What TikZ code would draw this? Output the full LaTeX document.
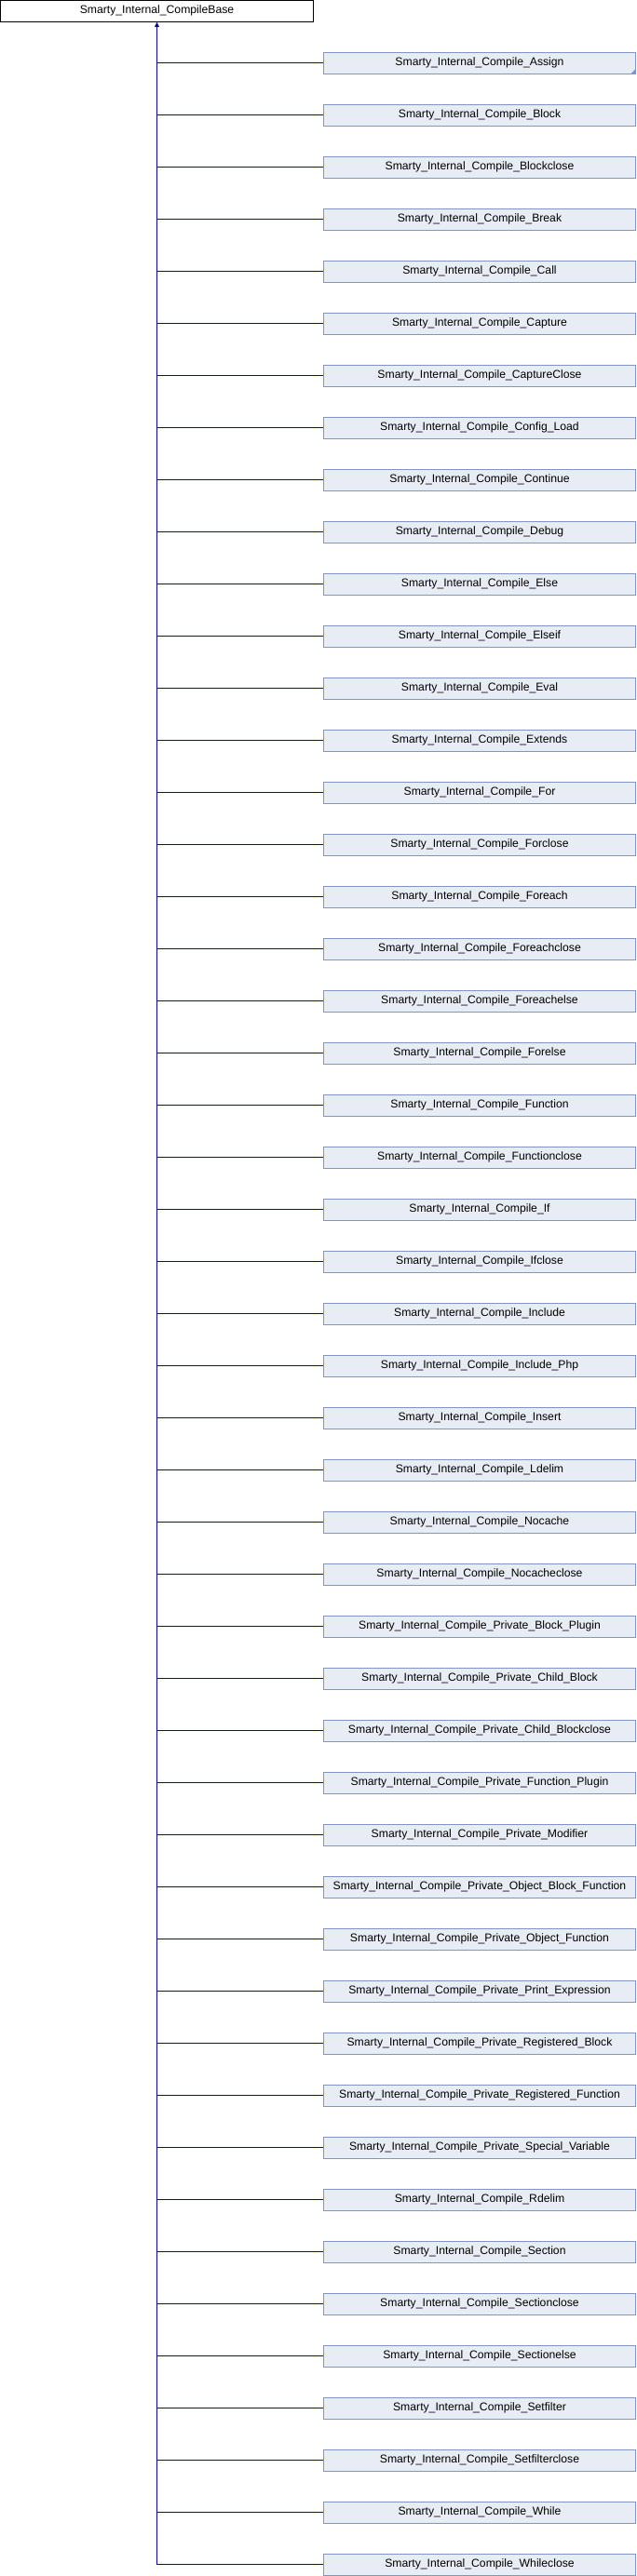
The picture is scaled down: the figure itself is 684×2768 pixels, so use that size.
\documentclass[tikz,border=0pt]{standalone}
\usepackage{fontspec}
\setmainfont{Liberation Sans}
\usetikzlibrary{arrows.meta}
\definecolor{edgeblue}{HTML}{0A0A96}
\definecolor{boxfill}{HTML}{E8ECF5}
\definecolor{boxline}{HTML}{7E95C9}
\begin{document}
\begin{tikzpicture}[x=1pt,y=-1pt,
  base/.style={draw=black,fill=white,line width=0.9pt,minimum width=336pt,minimum height=23pt,inner sep=0pt,font=\fontsize{12.2}{14}\selectfont},
  child/.style={draw=boxline,fill=boxfill,line width=0.9pt,minimum width=335pt,minimum height=23pt,inner sep=0pt,font=\fontsize{12.2}{14}\selectfont},
  inh/.style={draw=edgeblue,line width=1.1pt}]
\useasboundingbox (0,0) rectangle (684,2768);
\node[base] (base) at (168.5,11.8) {Smarty\_Internal\_CompileBase};
\coordinate (trunk) at (168.5,2755.5);
\foreach [count=\i from 0] \n in {Assign,Block,Blockclose,Break,Call,Capture,CaptureClose,Config\_Load,Continue,Debug,Else,Elseif,Eval,Extends,For,Forclose,Foreach,Foreachclose,Foreachelse,Forelse,Function,Functionclose,If,Ifclose,Include,Include\_Php,Insert,Ldelim,Nocache,Nocacheclose,Private\_Block\_Plugin,Private\_Child\_Block,Private\_Child\_Blockclose,Private\_Function\_Plugin,Private\_Modifier,Private\_Object\_Block\_Function,Private\_Object\_Function,Private\_Print\_Expression,Private\_Registered\_Block,Private\_Registered\_Function,Private\_Special\_Variable,Rdelim,Section,Sectionclose,Sectionelse,Setfilter,Setfilterclose,While,Whileclose}{
  \node[child] (c\i) at (515,{67.8+56*\i}) {Smarty\_Internal\_Compile\_\n};
  \draw[inh] (c\i.west) -- (168.5,{67.8+56*\i});
}
\draw[inh,-{Triangle[length=5pt,width=4.5pt]}] (trunk) -- (base.south);
\fill[boxline] (c0.south east) -- ++(0,-6) -- ++(-6,6) -- cycle;
\end{tikzpicture}
\end{document}
